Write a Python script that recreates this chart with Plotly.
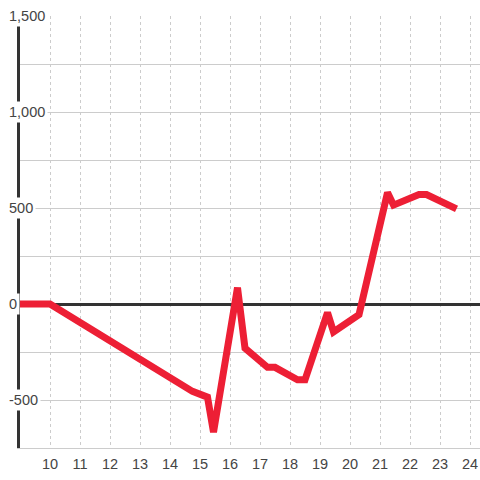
import plotly.graph_objects as go

hours = [9, 10, 14.75, 15.25, 15.45, 16.25, 16.5, 17.25, 17.5, 18.25, 18.5,
         19.25, 19.45, 20.3, 21.25, 21.45, 22.3, 22.55, 23.55]
values = [0, 0, -455, -485, -668, 85, -230, -330, -330, -395, -395,
          -45, -145, -55, 580, 515, 570, 570, 495]

x_ticks = list(range(10, 25))
y_label_vals = [1500, 1000, 500, 0, -500]
y_label_text = ["1,500", "1,000", "500", "0", "-500"]

fig = go.Figure()
fig.add_trace(go.Scatter(
    x=hours, y=values, mode="lines",
    line=dict(color="#ED1F35", width=7),
    hoverinfo="skip", cliponaxis=False,
))

font = dict(family="Liberation Sans, Arial, sans-serif", size=14.5, color="#444")

for v, t in zip(y_label_vals, y_label_text):
    fig.add_annotation(
        x=-0.031, xref="paper", y=v, yref="y", text=t, showarrow=False,
        xanchor="left", yanchor="middle", bgcolor="white", borderpad=2,
        font=font,
    )

fig.update_layout(
    width=480, height=480,
    margin=dict(l=20, r=0, t=16, b=32),
    paper_bgcolor="white", plot_bgcolor="white",
    showlegend=False,
    xaxis=dict(
        range=[9, 24.333], tickvals=x_ticks, ticktext=[str(v) for v in x_ticks],
        showgrid=True, gridcolor="#cccccc", gridwidth=1, griddash="dot",
        zeroline=False, showline=True, linecolor="#cccccc", linewidth=1,
        ticks="outside", ticklen=3, tickcolor="rgba(0,0,0,0)",
        tickfont=font,
    ),
    yaxis=dict(
        range=[-750, 1500], dtick=250, tick0=0,
        showgrid=True, gridcolor="#cccccc", gridwidth=1,
        showticklabels=False,
        zeroline=True, zerolinecolor="#333333", zerolinewidth=3,
        showline=True, linecolor="#333333", linewidth=3,
    ),
)

fig.write_html("out.html", config={"displayModeBar": False},
               post_script="document.body.style.margin='0';")
